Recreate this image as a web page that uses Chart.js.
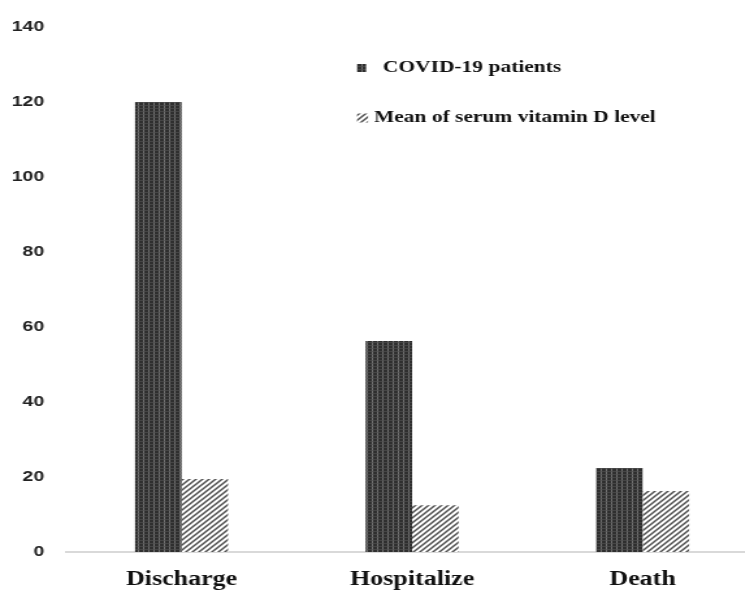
<!DOCTYPE html>
<html>
<head>
<meta charset="utf-8">
<script src="https://cdn.jsdelivr.net/npm/chart.js@4.4.1/dist/chart.umd.min.js"></script>
<style>
    html, body { margin: 0; padding: 0; background: #fff; overflow: hidden; }
    /* the source picture is stretched sideways, so the whole chart is too */
    #wrap { width: 583px; height: 590px; transform: scaleX(1.3); transform-origin: 0 0; }
</style>
</head>
<body>
<div id="wrap"><canvas id="chart" width="583" height="590"></canvas></div>
<script>
const categories = ['Discharge', 'Hospitalize', 'Death'];
const covidPatients = [120, 56.3, 22.4];
const vitaminD = [19.5, 12.5, 16.3];
const seriesLabels = ['COVID-19 patients', 'Mean of serum vitamin D level'];
const yMax = 140;
const yStep = 20;

const ctx = document.getElementById('chart').getContext('2d');

// dark bars: vertical light stripes over a dotted dark fill
function darkPattern() {
    const c = document.createElement('canvas');
    c.width = 4; c.height = 3;
    const p = c.getContext('2d');
    p.fillStyle = '#2f2f2f';
    p.fillRect(0, 0, 4, 3);
    p.fillStyle = '#454545';
    p.fillRect(0, 0, 4, 1);
    p.fillStyle = '#707070';
    p.fillRect(2, 0, 1, 3);
    p.fillStyle = '#5a5a5a';
    p.fillRect(2, 0, 1, 1);
    return ctx.createPattern(c, 'repeat');
}

// light bars: diagonal hatch on white
function hatchPattern() {
    const c = document.createElement('canvas');
    c.width = 5; c.height = 5;
    const p = c.getContext('2d');
    p.fillStyle = '#ffffff';
    p.fillRect(0, 0, 5, 5);
    p.strokeStyle = '#505050';
    p.lineWidth = 1.5;
    p.beginPath();
    p.moveTo(0, 5); p.lineTo(5, 0);
    p.moveTo(-1, 1); p.lineTo(1, -1);
    p.moveTo(4, 6); p.lineTo(6, 4);
    p.stroke();
    return ctx.createPattern(c, 'repeat');
}

const fills = [darkPattern(), hatchPattern()];

// legend drawn inside the plot, top middle
const legendPlugin = {
    id: 'innerLegend',
    afterDraw(chart) {
        const c = chart.ctx;
        const items = [
            { mx: 274.6, my: 64, mw: 7, mh: 8, tx: 294.6, ty: 68 },
            { mx: 274.6, my: 113.5, mw: 8.5, mh: 9, tx: 287.7, ty: 118 }
        ];
        c.save();
        c.font = 'bold 16.5px "Liberation Serif", "Times New Roman", serif';
        c.textBaseline = 'middle';
        c.textAlign = 'left';
        chart.data.datasets.forEach((ds, i) => {
            const it = items[i];
            c.fillStyle = ds.backgroundColor;
            c.fillRect(it.mx, it.my, it.mw, it.mh);
            c.fillStyle = '#111';
            c.fillText(ds.label, it.tx, it.ty);
        });
        c.restore();
    }
};

new Chart(ctx, {
    type: 'bar',
    data: {
        labels: categories,
        datasets: [
            { label: seriesLabels[0], data: covidPatients, backgroundColor: fills[0], borderWidth: 0 },
            { label: seriesLabels[1], data: vitaminD, backgroundColor: fills[1], borderWidth: 0 }
        ]
    },
    options: {
        responsive: false,
        animation: false,
        layout: { padding: { top: 27, right: 0, bottom: 0, left: 0 } },
        datasets: {
            bar: { categoryPercentage: 0.4035, barPercentage: 1 }
        },
        scales: {
            x: {
                grid: { display: false, drawTicks: false },
                border: { display: true, color: '#d9d9d9', width: 2 },
                ticks: {
                    color: '#111',
                    padding: 16,
                    font: { family: '"Liberation Serif", "Times New Roman", serif', size: 20, weight: 'bold' }
                },
                afterFit(scale) { scale.height = 38; }
            },
            y: {
                min: 0,
                max: yMax,
                grid: { display: false, drawTicks: false },
                border: { display: false },
                ticks: {
                    stepSize: yStep,
                    color: '#222',
                    padding: 17,
                    font: { family: '"Liberation Sans", Arial, sans-serif', size: 15, weight: 'bold' }
                },
                afterFit(scale) { scale.width = 51; }
            }
        },
        plugins: {
            legend: { display: false },
            tooltip: { enabled: false }
        }
    },
    plugins: [legendPlugin]
});
</script>
</body>
</html>
